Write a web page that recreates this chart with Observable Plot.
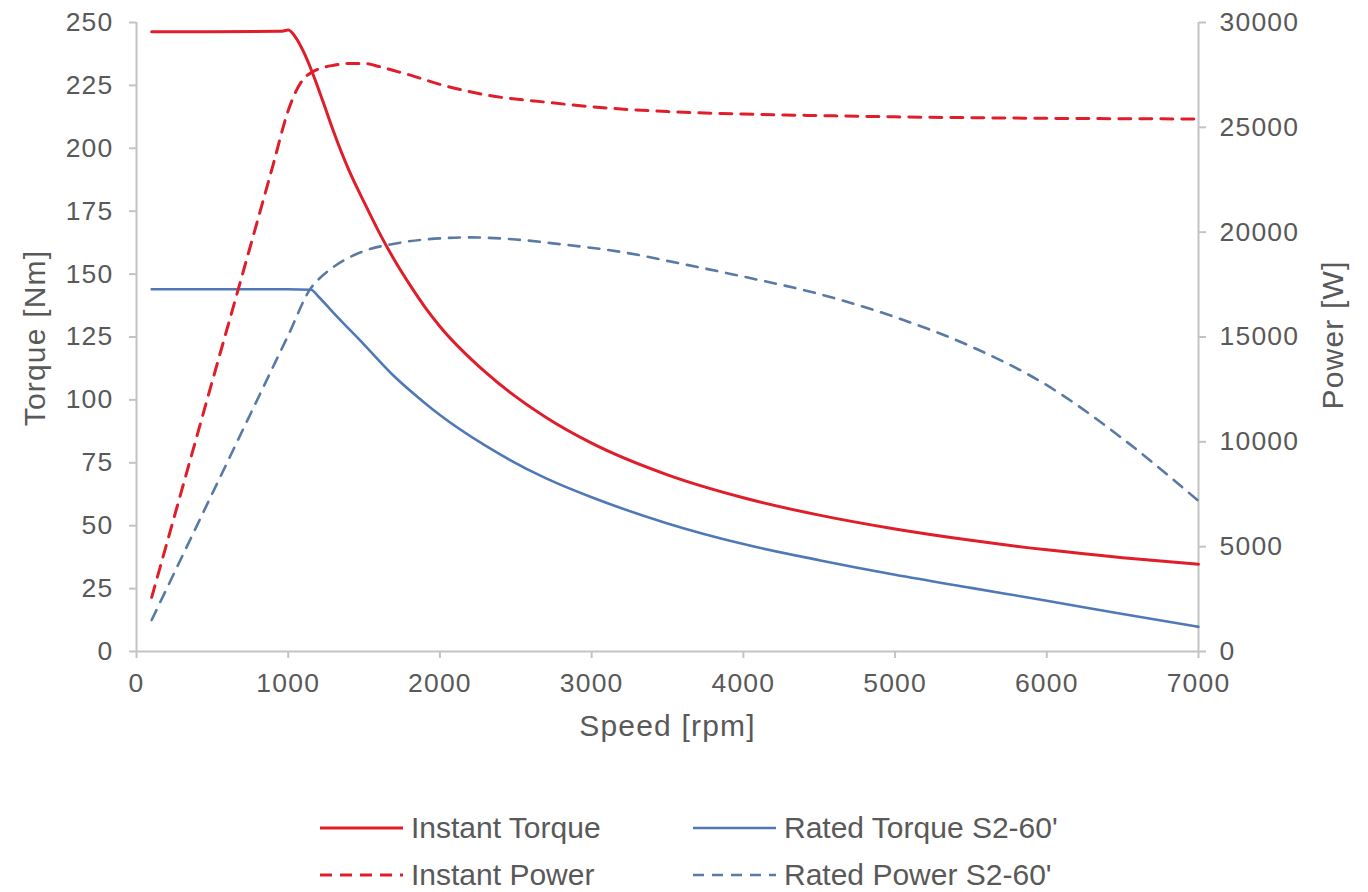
<!DOCTYPE html>
<html><head><meta charset="utf-8">
<script src="https://cdn.jsdelivr.net/npm/d3@7"></script>
<script src="https://cdn.jsdelivr.net/npm/@observablehq/plot@0.6"></script>
<style>
body{margin:0;background:#fff;font-family:"Liberation Sans",Arial,sans-serif;}
#wrap{position:relative;width:1368px;height:892px;overflow:hidden;}
#chart svg text{letter-spacing:1.2px;}
.leg{position:absolute;display:flex;align-items:center;font-size:30px;color:#595959;white-space:nowrap;}
.leg svg{margin-right:8px;}
</style></head><body><div id="wrap"><div id="chart"></div><div id="legend"></div></div>
<script>
// ---- data ----
const instantTorqueSpeed = [100, 500, 950, 1000, 1050, 1100, 1150, 1200, 1250, 1300, 1400, 1500, 1600, 1700, 1800, 1900, 2000, 2300, 2700, 3000, 3500, 4000, 4500, 5000, 5500, 6000, 6500, 7000];
const instantTorque      = [246.3, 246.3, 246.5, 247, 244, 238.5, 231.5, 223.5, 215, 206.5, 191.3, 178.6, 166.5, 155.6, 145.9, 137, 129.2, 111, 93, 82.8, 70.2, 61.1, 54.2, 48.7, 44.2, 40.4, 37.3, 34.7];

const instantPowerSpeed = [100, 300, 500, 700, 900, 1000, 1050, 1100, 1150, 1200, 1300, 1400, 1500, 1600, 1700, 1800, 2000, 2300, 2700, 3000, 3500, 4000, 4500, 5000, 5500, 6000, 6500, 7000];
const instantPower      = [2580, 7740, 12900, 18030, 23200, 25800, 26700, 27300, 27600, 27780, 27960, 28050, 28050, 27900, 27700, 27500, 27050, 26550, 26200, 25980, 25750, 25630, 25560, 25500, 25460, 25430, 25410, 25400];

const ratedTorqueSpeed = [100, 500, 1000, 1150, 1200, 1300, 1500, 1700, 1900, 2000, 2300, 2700, 3000, 3500, 4000, 4500, 5000, 5500, 6000, 6500, 7000];
const ratedTorque      = [144, 144, 144, 143.8, 141, 134.5, 122, 109.3, 98.8, 94, 81.8, 68.8, 61.3, 50.9, 42.7, 36.3, 30.5, 25.3, 20.2, 14.9, 9.8];

const ratedPowerSpeed = [100, 500, 1000, 1150, 1200, 1300, 1500, 1700, 1900, 2200, 2500, 2800, 3200, 3600, 4000, 4500, 5000, 5500, 6000, 6500, 7000];
const ratedPower      = [1500, 7540, 15080, 17340, 17750, 18350, 19100, 19450, 19650, 19750, 19650, 19420, 19050, 18480, 17880, 17050, 15950, 14550, 12700, 10150, 7180];

const xTicks = [0, 1000, 2000, 3000, 4000, 5000, 6000, 7000];
const torqueTicks = [0, 25, 50, 75, 100, 125, 150, 175, 200, 225, 250];
const powerTicks = [0, 5000, 10000, 15000, 20000, 25000, 30000];
const seriesNames = ["Instant Torque", "Rated Torque S2-60'", "Instant Power", "Rated Power S2-60'"];

const RED = "#e01e2a", BLUE = "#4f79b6", BLUE_D = "#5a7aa6";
const POWER_MAX = 30000, TORQUE_MAX = 250, k = POWER_MAX / TORQUE_MAX;
const GRAY = "#c3c3c3", TXT = "#595959";

const zip = (xs, ys) => xs.map((s, i) => ({s, v: ys[i]}));
const it = zip(instantTorqueSpeed, instantTorque);
const ip = zip(instantPowerSpeed, instantPower);
const rt = zip(ratedTorqueSpeed, ratedTorque);
const rp = zip(ratedPowerSpeed, ratedPower);

const chart = Plot.plot({
  width: 1368, height: 770,
  marginLeft: 136, marginRight: 170, marginTop: 22, marginBottom: 119,
  style: {fontFamily: '"Liberation Sans", Arial, sans-serif', color: TXT, background: "#fff"},
  x: {domain: [0, 7000]},
  y: {domain: [0, TORQUE_MAX]},
  marks: [
    Plot.ruleX([0], {stroke: GRAY, strokeWidth: 2}),
    Plot.ruleX([7000], {stroke: GRAY, strokeWidth: 2}),
    Plot.ruleY([0], {stroke: GRAY, strokeWidth: 2}),
    Plot.axisX({ticks: xTicks, tickFormat: d3.format("d"), tickSize: 7, tickPadding: 15, label: null, stroke: GRAY, strokeWidth: 2, fontSize: 26.5, fill: TXT}),
    Plot.axisY({anchor: "left", ticks: torqueTicks, tickSize: 7, tickPadding: 16, label: null, stroke: GRAY, strokeWidth: 2, fontSize: 26.5, fill: TXT}),
    Plot.axisY({anchor: "right", ticks: powerTicks.map(p => p / k), tickFormat: d => String(Math.round(d * k)), tickSize: 7, tickPadding: 14, label: null, stroke: GRAY, strokeWidth: 2, fontSize: 26.5, fill: TXT}),
    Plot.text(["Torque [Nm]"], {frameAnchor: "left", textAnchor: "middle", rotate: -90, dx: -101, dy: 1, fontSize: 30, fill: TXT}),
    Plot.text(["Power [W]"], {frameAnchor: "right", textAnchor: "middle", rotate: -90, dx: 135, dy: -2, fontSize: 30, fill: TXT}),
    Plot.text(["Speed [rpm]"], {frameAnchor: "bottom", textAnchor: "middle", dy: 84, fontSize: 30, fill: TXT}),
    Plot.line(rp, {x: "s", y: d => d.v / k, stroke: BLUE_D, strokeWidth: 2.6, strokeDasharray: "11,9", curve: "monotone-x"}),
    Plot.line(rt, {x: "s", y: "v", stroke: BLUE, strokeWidth: 2.6, curve: "monotone-x"}),
    Plot.line(ip, {x: "s", y: d => d.v / k, stroke: RED, strokeWidth: 3, strokeDasharray: "12,9", curve: "monotone-x"}),
    Plot.line(it, {x: "s", y: "v", stroke: RED, strokeWidth: 3, curve: "monotone-x"})
  ]
});
document.getElementById("chart").appendChild(chart);

// legend
const legendItems = [
  {name: seriesNames[0], color: RED, dash: null, w: 3, left: 320, top: 828},
  {name: seriesNames[1], color: BLUE, dash: null, w: 2.6, left: 693, top: 828},
  {name: seriesNames[2], color: RED, dash: "12,8", w: 3, left: 320, top: 875},
  {name: seriesNames[3], color: BLUE_D, dash: "11,8", w: 2.6, left: 693, top: 875}
];
const leg = document.getElementById("legend");
for (const d of legendItems) {
  const div = document.createElement("div");
  div.className = "leg";
  div.style.left = d.left + "px";
  div.style.top = (d.top - 18) + "px";
  div.style.height = "36px";
  div.innerHTML = `<svg width="83" height="10"><line x1="0" x2="83" y1="5" y2="5" stroke="${d.color}" stroke-width="${d.w}" ${d.dash ? `stroke-dasharray="${d.dash}"` : ""}/></svg><span>${d.name}</span>`;
  leg.appendChild(div);
}
</script></body></html>
